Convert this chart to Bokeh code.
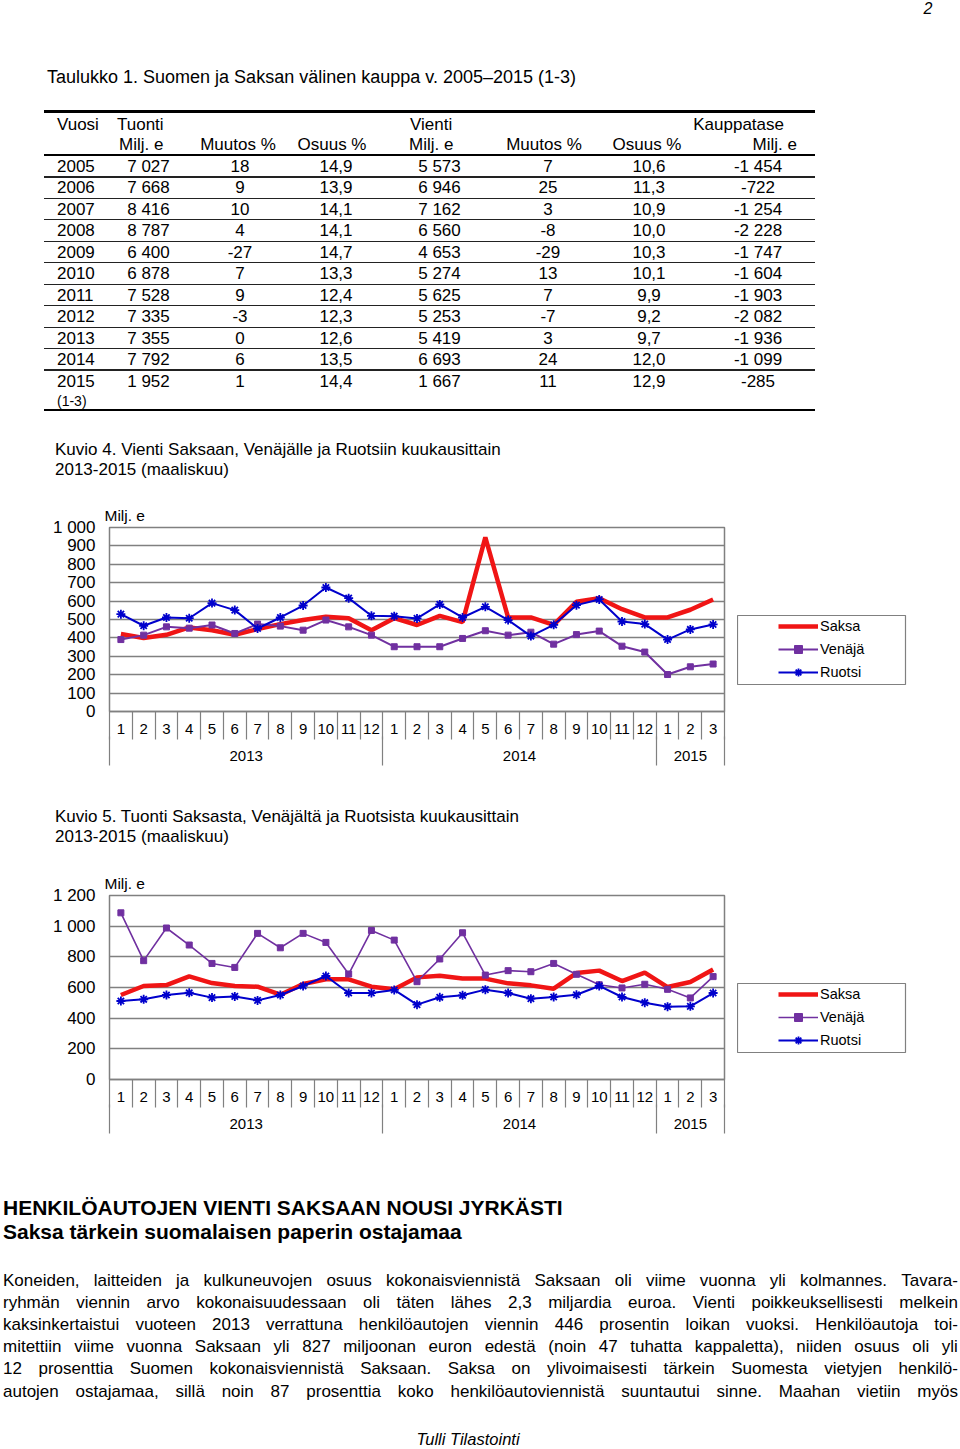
from bokeh.plotting import figure
from bokeh.models import Div, Legend, LegendItem, LinearAxis, FixedTicker, Range1d
from bokeh.layouts import column, row
from bokeh.embed import file_html
from bokeh.resources import INLINE

# ---------------- data ----------------
vuodet = ["2005", "2006", "2007", "2008", "2009", "2010", "2011", "2012", "2013", "2014", "2015"]
tuonti = ["7 027", "7 668", "8 416", "8 787", "6 400", "6 878", "7 528", "7 335", "7 355", "7 792", "1 952"]
tuonti_muutos = ["18", "9", "10", "4", "-27", "7", "9", "-3", "0", "6", "1"]
tuonti_osuus = ["14,9", "13,9", "14,1", "14,1", "14,7", "13,3", "12,4", "12,3", "12,6", "13,5", "14,4"]
vienti = ["5 573", "6 946", "7 162", "6 560", "4 653", "5 274", "5 625", "5 253", "5 419", "6 693", "1 667"]
vienti_muutos = ["7", "25", "3", "-8", "-29", "13", "7", "-7", "3", "24", "11"]
vienti_osuus = ["10,6", "11,3", "10,9", "10,0", "10,3", "10,1", "9,9", "9,2", "9,7", "12,0", "12,9"]
kauppatase = ["-1 454", "-722", "-1 254", "-2 228", "-1 747", "-1 604", "-1 903", "-2 082", "-1 936", "-1 099", "-285"]

kuukaudet = [str(m) for m in range(1, 13)] * 2 + ["1", "2", "3"]
vuosiryhmat = ["2013", "2014", "2015"]
vuosien_kuukaudet = [12, 12, 3]

vienti_saksa = [421, 399, 417, 457, 442, 417, 448, 475, 497, 515, 507, 442, 507,
                470, 520, 486, 946, 511, 511, 471, 596, 616, 556, 511, 511, 553, 609]
vienti_venaja = [391, 415, 460, 453, 470, 424, 475, 464, 442, 497, 460, 415, 352,
                 352, 352, 397, 439, 415, 431, 366, 418, 437, 355, 323, 201, 243, 258]
vienti_ruotsi = [529, 466, 511, 507, 589, 551, 451, 511, 576, 674, 616, 520, 518,
                 506, 582, 511, 569, 497, 410, 471, 578, 609, 489, 475, 391, 446, 473]

tuonti_saksa = [551, 610, 616, 673, 629, 610, 605, 553, 623, 653, 653, 605, 588,
                666, 677, 658, 658, 627, 614, 592, 694, 710, 642, 697, 603, 636, 718]
tuonti_venaja = [1087, 775, 988, 877, 757, 731, 953, 859, 953, 894, 688, 972, 909,
                 638, 786, 957, 681, 710, 703, 757, 686, 618, 597, 621, 588, 532, 671]
tuonti_ruotsi = [512, 523, 551, 566, 534, 542, 516, 551, 610, 675, 564, 564, 584,
                 488, 536, 549, 586, 564, 527, 538, 553, 610, 538, 501, 475, 477, 564]

y1_ticks = [0, 100, 200, 300, 400, 500, 600, 700, 800, 900, 1000]
y1_labels = ["0", "100", "200", "300", "400", "500", "600", "700", "800", "900", "1 000"]
y2_ticks = [0, 200, 400, 600, 800, 1000, 1200]
y2_labels = ["0", "200", "400", "600", "800", "1 000", "1 200"]

sarjat = ["Saksa", "Venäjä", "Ruotsi"]

# ---------------- helpers ----------------
FONT = "'Liberation Sans', Arial, sans-serif"
FN = "Liberation Sans"


def txt(x, cy, s, oy, size=17, align="left", weight="normal", style="normal", lh=None):
    lh = lh or round(size * 1.25)
    top = cy - oy - lh / 2
    if align == "left":
        pos = f"left:{x}px;"
    elif align == "right":
        pos = f"left:{x - 500}px;width:500px;text-align:right;"
    else:
        pos = f"left:{x - 250}px;width:500px;text-align:center;"
    return (f'<div style="position:absolute;{pos}top:{top}px;white-space:nowrap;'
            f'font:{style} {weight} {size}px/{lh}px {FONT};color:#000;">{s}</div>')


def hline(x0, x1, y, th, oy, color="#000"):
    return (f'<div style="position:absolute;left:{x0}px;top:{y - oy - th / 2}px;'
            f'width:{x1 - x0}px;height:{th}px;background:{color};"></div>')


def make_div(inner, h):
    html = f'<div style="position:relative;width:960px;height:{h}px;">{inner}</div>'
    return Div(text=html, width=960, height=h, margin=0, styles={"overflow": "visible"})


# ---------------- segment 1: table ----------------
oy = 0
h = []
h.append(txt(928, 9, "2", oy, size=16, align="center", style="italic", lh=18))
h.append(txt(47, 77, "Taulukko 1. Suomen ja Saksan välinen kauppa v. 2005–2015 (1-3)", oy, size=18))
h.append(hline(44, 815, 111.5, 2.5, oy))
h.append(txt(57, 124, "Vuosi", oy))
h.append(txt(117, 124, "Tuonti", oy))
h.append(txt(410, 124, "Vienti", oy))
h.append(txt(784, 124, "Kauppatase", oy, align="right"))
h.append(txt(119, 144, "Milj. e", oy))
h.append(txt(238, 144, "Muutos %", oy, align="center"))
h.append(txt(332, 144, "Osuus %", oy, align="center"))
h.append(txt(409, 144, "Milj. e", oy))
h.append(txt(544, 144, "Muutos %", oy, align="center"))
h.append(txt(647, 144, "Osuus %", oy, align="center"))
h.append(txt(797, 144, "Milj. e", oy, align="right"))
h.append(hline(44, 815, 154.5, 2, oy))
for i in range(len(vuodet)):
    cy = 166.5 + i * 21.45
    h.append(txt(57, cy, vuodet[i], oy))
    h.append(txt(148.5, cy, tuonti[i], oy, align="center"))
    h.append(txt(240, cy, tuonti_muutos[i], oy, align="center"))
    h.append(txt(336, cy, tuonti_osuus[i], oy, align="center"))
    h.append(txt(439.5, cy, vienti[i], oy, align="center"))
    h.append(txt(548, cy, vienti_muutos[i], oy, align="center"))
    h.append(txt(649, cy, vienti_osuus[i], oy, align="center"))
    h.append(txt(758, cy, kauppatase[i], oy, align="center"))
    if i < len(vuodet) - 1:
        h.append(hline(44, 815, cy + 10.5, 1.2, oy, "#222"))
h.append(txt(57, 401, "(1-3)", oy, size=14))
h.append(hline(44, 815, 410, 2.5, oy))
h.append(txt(55, 449, "Kuvio 4. Vienti Saksaan, Venäjälle ja Ruotsiin kuukausittain", oy))
h.append(txt(55, 469, "2013-2015 (maaliskuu)", oy))
div1 = make_div("".join(h), 500)

# ---------------- charts ----------------
GRID = "#808080"
COLORS = ["#f01515", "#7030a0", "#0000cc"]


def draw_series(fig, x, saksa, venaja, ruotsi, vw):
    r1 = fig.line(x, saksa, color=COLORS[0], line_width=4.5)
    r2 = fig.line(x, venaja, color=COLORS[1], line_width=vw)
    r2s = fig.scatter(x, venaja, marker="square", size=6, color=COLORS[1])
    r3 = fig.line(x, ruotsi, color=COLORS[2], line_width=2)
    r3s = fig.scatter(x, ruotsi, marker="asterisk", size=9, line_color=COLORS[2], line_width=1.8)
    return [[r1], [r2, r2s], [r3, r3s]]


def make_chart(ticks, labels, ymax, saksa, venaja, ruotsi, vw):
    x = list(range(1, len(kuukaudet) + 1))
    p = figure(width=737, height=300, x_range=(0.5, len(kuukaudet) + 0.5), y_range=(0, ymax),
               output_backend="svg", toolbar_location=None, x_axis_location=None,
               title="Milj. e",
               min_border_left=109, min_border_right=13, min_border_top=27, min_border_bottom=89,
               background_fill_color="white", border_fill_color="white")
    p.frame_align = False
    p.title.align = "left"
    p.title.offset = -5
    p.title.standoff = 8
    p.title.text_font = FN
    p.title.text_font_size = "15.5px"
    p.title.text_font_style = "normal"
    p.title.text_color = "#000"
    p.outline_line_color = GRID
    p.outline_line_width = 1.5
    p.xgrid.visible = False
    p.ygrid.ticker = FixedTicker(ticks=ticks)
    p.ygrid.grid_line_color = GRID
    p.ygrid.grid_line_width = 1.4
    ya = p.yaxis[0]
    ya.ticker = FixedTicker(ticks=ticks)
    ya.major_label_overrides = {t: l for t, l in zip(ticks, labels)}
    ya.major_tick_line_color = None
    ya.minor_tick_line_color = None
    ya.major_tick_out = 0
    ya.minor_tick_out = 0
    ya.axis_line_color = None
    ya.major_label_standoff = 14
    ya.major_label_text_font = FN
    ya.major_label_text_font_size = "17px"
    ya.major_label_text_color = "#000"

    # month axis with separators
    bounds = [i + 0.5 for i in range(0, len(kuukaudet) + 1)]
    axA = LinearAxis(ticker=FixedTicker(ticks=x, minor_ticks=bounds),
                     major_label_overrides={xi: m for xi, m in zip(x, kuukaudet)},
                     major_tick_out=0, major_tick_in=0, major_tick_line_color=None,
                     minor_tick_out=28, minor_tick_in=0, minor_tick_line_color=GRID,
                     minor_tick_line_width=1.2,
                     axis_line_color=GRID, axis_line_width=1.5,
                     major_label_standoff=-16, major_label_text_font=FN,
                     major_label_text_font_size="15px", major_label_text_color="#000")
    # year axis
    ybounds = [0.5]
    centers = []
    acc = 0
    for n in vuosien_kuukaudet:
        centers.append(acc + (n + 1) / 2)
        acc += n
        ybounds.append(acc + 0.5)
    axB = LinearAxis(ticker=FixedTicker(ticks=centers, minor_ticks=ybounds),
                     major_label_overrides={c: yv for c, yv in zip(centers, vuosiryhmat)},
                     major_tick_out=0, major_tick_in=0, major_tick_line_color=None,
                     minor_tick_out=29, minor_tick_in=0, minor_tick_line_color=GRID,
                     minor_tick_line_width=1.2, axis_line_color=None,
                     major_label_standoff=-15, major_label_text_font=FN,
                     major_label_text_font_size="15px", major_label_text_color="#000")
    p.add_layout(axA, "below")
    p.add_layout(axB, "below")

    draw_series(p, x, saksa, venaja, ruotsi, vw)

    # legend panel: separate small figure whose frame is the legend box;
    # the sample renderers lie outside its (0..1) ranges, so only the legend shows them
    q = figure(width=223, height=300, x_range=Range1d(0, 1), y_range=Range1d(0, 1),
               output_backend="svg", toolbar_location=None,
               x_axis_location=None, y_axis_location=None,
               min_border_left=0, min_border_right=55, min_border_top=115, min_border_bottom=116,
               background_fill_color="white", border_fill_color="white")
    q.frame_align = False
    q.grid.visible = False
    q.outline_line_color = GRID
    q.outline_line_width = 1.2
    rs = draw_series(q, x, saksa, venaja, ruotsi, vw)
    legend = Legend(items=[LegendItem(label=s, renderers=r) for s, r in zip(sarjat, rs)],
                    location=(40, 1), padding=1, spacing=3, glyph_width=40, glyph_height=20,
                    label_height=20, label_standoff=2, margin=0,
                    border_line_alpha=0, background_fill_alpha=0,
                    label_text_font=FN, label_text_font_size="14.5px", label_text_color="#000")
    q.add_layout(legend)
    return row(p, q, spacing=0)


chart1 = make_chart(y1_ticks, y1_labels, 1000, vienti_saksa, vienti_venaja, vienti_ruotsi, 2)

oy = 800
h = [txt(55, 816, "Kuvio 5. Tuonti Saksasta, Venäjältä ja Ruotsista kuukausittain", oy),
     txt(55, 836, "2013-2015 (maaliskuu)", oy)]
div2 = make_div("".join(h), 68)

chart2 = make_chart(y2_ticks, y2_labels, 1200, tuonti_saksa, tuonti_venaja, tuonti_ruotsi, 1.6)

# ---------------- segment 3: text ----------------
oy = 1168
rivit = [
    "Koneiden, laitteiden ja kulkuneuvojen osuus kokonaisviennistä Saksaan oli viime vuonna yli kolmannes. Tavara-",
    "ryhmän viennin arvo kokonaisuudessaan oli täten lähes 2,3 miljardia euroa. Vienti poikkeuksellisesti melkein",
    "kaksinkertaistui vuoteen 2013 verrattuna henkilöautojen viennin 446 prosentin loikan vuoksi. Henkilöautoja toi-",
    "mitettiin viime vuonna Saksaan yli 827 miljoonan euron edestä (noin 47 tuhatta kappaletta), niiden osuus oli yli",
    "12 prosenttia Suomen kokonaisviennistä Saksaan. Saksa on ylivoimaisesti tärkein Suomesta vietyjen henkilö-",
    "autojen ostajamaa, sillä noin 87 prosenttia koko henkilöautoviennistä suuntautui sinne. Maahan vietiin myös",
]
h = [txt(3, 1208, "HENKILÖAUTOJEN VIENTI SAKSAAN NOUSI JYRKÄSTI", oy, size=21, weight="bold"),
     txt(3, 1232, "Saksa tärkein suomalaisen paperin ostajamaa", oy, size=21, weight="bold")]
for i, r in enumerate(rivit):
    cy = 1280 + i * 22.2
    lh = 21
    spans = "".join(f"<span>{w}</span>" for w in r.split(" "))
    h.append(f'<div style="position:absolute;left:3px;top:{cy - oy - lh / 2}px;width:955px;'
             f'display:flex;justify-content:space-between;white-space:nowrap;'
             f'font:normal normal 17px/{lh}px {FONT};color:#000;">{spans}</div>')
h.append(txt(468, 1439, "Tulli Tilastointi", oy, size=16.5, align="center", style="italic", lh=18))
div3 = make_div("".join(h), 281)

layout = column(div1, chart1, div2, chart2, div3, spacing=0)
with open("out.html", "w", encoding="utf-8") as f:
    f.write(file_html(layout, INLINE))
